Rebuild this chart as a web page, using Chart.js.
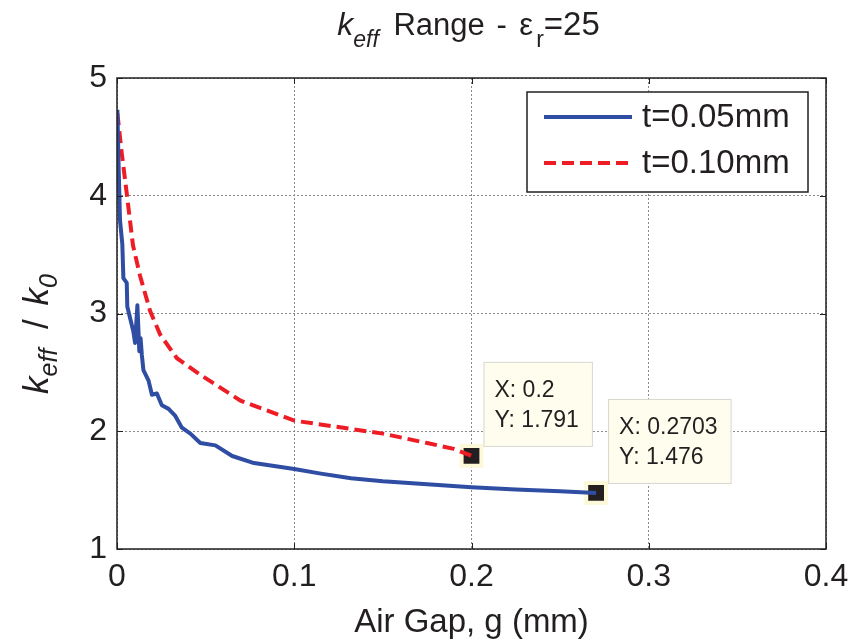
<!DOCTYPE html>
<html>
<head>
<meta charset="utf-8">
<script src="https://cdn.jsdelivr.net/npm/chart.js@4.4.1/dist/chart.umd.min.js"></script>
<style>
    html, body { margin: 0; padding: 0; background: #fff; }
    #wrap { width: 865px; height: 642px; }
</style>
</head>
<body>
<div id="wrap"><canvas id="chart" width="865" height="642"></canvas></div>
<script>
    // t = 0.05mm curve (air gap in mm, keff/k0)
    const gap05 = [0.0002, 0.0010, 0.0017, 0.0030, 0.0036, 0.0055, 0.0058, 0.0092, 0.0102, 0.0115,
                   0.0126, 0.0133, 0.0140, 0.0149, 0.0178, 0.0197, 0.0225, 0.0253, 0.0291, 0.0329,
                   0.0366, 0.0414, 0.0470, 0.0555, 0.0650, 0.0773, 0.1000, 0.1150, 0.1320, 0.1500,
                   0.1750, 0.2000, 0.2250, 0.2500, 0.2703];
    const keff05 = [4.73, 4.20, 3.79, 3.59, 3.30, 3.26, 3.06, 2.85, 2.75, 3.07,
                    2.68, 2.79, 2.65, 2.52, 2.43, 2.31, 2.32, 2.22, 2.19, 2.13,
                    2.03, 1.98, 1.90, 1.88, 1.79, 1.73, 1.68, 1.64, 1.60, 1.575,
                    1.55, 1.525, 1.505, 1.49, 1.476];

    // t = 0.10mm curve
    const gap10 = [0.0002, 0.0027, 0.0055, 0.0090, 0.0130, 0.0149, 0.0187, 0.0244, 0.0338, 0.0470,
                   0.0697, 0.1000, 0.1320, 0.1500, 0.1750, 0.1900, 0.2000];
    const keff10 = [4.70, 4.36, 4.02, 3.58, 3.32, 3.22, 3.02, 2.82, 2.62, 2.48,
                    2.26, 2.09, 2.02, 1.98, 1.90, 1.85, 1.791];

    // data tips
    const tipGap = [0.2, 0.2703];
    const tipKeff = [1.791, 1.476];

    const seriesLabels = ['t=0.05mm', 't=0.10mm'];
    const xTicks = [0, 0.1, 0.2, 0.3, 0.4];
    const yTicks = [1, 2, 3, 4, 5];

    const FONT = '"Liberation Sans", Arial, Helvetica, sans-serif';
    const INK = '#231f20';
    const BLUE = '#2f4da3';
    const RED = '#ee1c25';

    function toPoints(xs, ys) {
        return xs.map((x, i) => ({ x: x, y: ys[i] }));
    }

    // draw a run of text pieces (sub/italic parts, gaps), centred on x
    function drawRich(ctx, parts, x, y) {
        let total = 0;
        parts.forEach(p => {
            if (p.gap) { p.w = p.gap; total += p.w; return; }
            ctx.font = (p.it ? 'italic ' : '') + p.size + 'px ' + FONT;
            p.w = ctx.measureText(p.t).width;
            total += p.w;
        });
        let cx = x - total / 2;
        parts.forEach(p => {
            if (!p.gap) {
                ctx.font = (p.it ? 'italic ' : '') + p.size + 'px ' + FONT;
                ctx.fillText(p.t, cx, y + (p.dy || 0));
            }
            cx += p.w;
        });
    }

    const matlabDecor = {
        id: 'matlabDecor',
        afterDatasetsDraw: function(chart) {
            const ctx = chart.ctx;
            const a = chart.chartArea;
            const xs = chart.scales.x, ys = chart.scales.y;

            // frame + inward ticks
            ctx.save();
            ctx.strokeStyle = INK;
            ctx.lineWidth = 1.5;
            ctx.strokeRect(a.left, a.top, a.right - a.left, a.bottom - a.top);
            ctx.lineWidth = 1;
            ctx.beginPath();
            xTicks.forEach(v => {
                const px = Math.round(xs.getPixelForValue(v)) + 0.5;
                ctx.moveTo(px, a.bottom); ctx.lineTo(px, a.bottom - 6);
                ctx.moveTo(px, a.top); ctx.lineTo(px, a.top + 6);
            });
            yTicks.forEach(v => {
                const py = Math.round(ys.getPixelForValue(v)) + 0.5;
                ctx.moveTo(a.left, py); ctx.lineTo(a.left + 6, py);
                ctx.moveTo(a.right, py); ctx.lineTo(a.right - 6, py);
            });
            ctx.stroke();
            ctx.restore();

            // legend box
            ctx.save();
            const lw = 281, lh = 100;
            const lx = a.right - 18 - lw, ly = a.top + 14;
            ctx.fillStyle = '#fff';
            ctx.fillRect(lx, ly, lw, lh);
            ctx.strokeStyle = INK;
            ctx.lineWidth = 1.5;
            ctx.strokeRect(lx, ly, lw, lh);
            chart.data.datasets.forEach((ds, i) => {
                if (ds.isTip) return;
                const rowY = ly + 25 + i * 46;
                ctx.strokeStyle = ds.borderColor;
                ctx.lineWidth = ds.borderWidth;
                ctx.setLineDash(ds.borderDash || []);
                ctx.beginPath();
                ctx.moveTo(lx + 17, rowY);
                ctx.lineTo(lx + 105, rowY);
                ctx.stroke();
                ctx.setLineDash([]);
                ctx.fillStyle = INK;
                ctx.font = '33px ' + FONT;
                ctx.textBaseline = 'middle';
                ctx.fillText(ds.label, lx + 115, rowY + 1);
            });
            ctx.restore();

            // data tip boxes
            ctx.save();
            ctx.font = '23px ' + FONT;
            ctx.textBaseline = 'middle';
            tipGap.forEach((g, i) => {
                const px = xs.getPixelForValue(g);
                const py = ys.getPixelForValue(tipKeff[i]);
                const lines = ['X: ' + g, 'Y: ' + tipKeff[i]];
                const tw = Math.max(...lines.map(s => ctx.measureText(s).width));
                const bx = px + 12, by = py - 94, bw = tw + 24, bh = 84;
                ctx.fillStyle = '#fffdee';
                ctx.fillRect(bx, by, bw, bh);
                ctx.strokeStyle = '#d8d8d0';
                ctx.lineWidth = 1;
                ctx.strokeRect(bx + 0.5, by + 0.5, bw, bh);
                ctx.fillStyle = INK;
                ctx.fillText(lines[0], bx + 11, by + 29);
                ctx.fillText(lines[1], bx + 11, by + 59);
            });
            ctx.restore();
        },
        afterDraw: function(chart) {
            const ctx = chart.ctx;
            const a = chart.chartArea;
            ctx.save();
            ctx.fillStyle = INK;
            ctx.textBaseline = 'alphabetic';

            // title
            drawRich(ctx, [
                { t: 'k', size: 32, it: true },
                { t: 'eff', size: 23, it: true, dy: 12 },
                { gap: 6 },
                { t: ' Range ', size: 31 },
                { gap: 3 },
                { t: '-', size: 31 },
                { gap: 4 },
                { t: ' ε', size: 31 },
                { gap: 3 },
                { t: 'r', size: 23, dy: 12 },
                { t: '=25', size: 33 }
            ], (a.left + a.right) / 2 - 3, 35);

            // x title
            drawRich(ctx, [{ t: 'Air Gap, g (mm)', size: 33 }], (a.left + a.right) / 2, 632);

            // y title (rotated)
            ctx.translate(48, 334);
            ctx.rotate(-Math.PI / 2);
            drawRich(ctx, [
                { t: 'k', size: 35, it: true },
                { t: 'eff', size: 25, it: true, dy: 9 },
                { gap: 10 },
                { t: ' / ', size: 35 },
                { gap: 4 },
                { t: 'k', size: 35, it: true },
                { t: '0', size: 25, it: true, dy: 9 }
            ], 0, 0);
            ctx.restore();
        }
    };

    const tickFont = { family: FONT, size: 32 };

    new Chart(document.getElementById('chart'), {
        type: 'line',
        data: {
            datasets: [
                { label: seriesLabels[0], data: toPoints(gap05, keff05), borderColor: BLUE, borderWidth: 4,
                  pointRadius: 0, tension: 0, borderJoinStyle: 'round' },
                { label: seriesLabels[1], data: toPoints(gap10, keff10), borderColor: RED, borderWidth: 4,
                  borderDash: [12, 6], pointRadius: 0, tension: 0 },
                { label: 'tips', isTip: true, data: toPoints(tipGap, tipKeff), showLine: false,
                  pointStyle: 'rect', pointRadius: 14, pointBackgroundColor: INK,
                  pointBorderColor: '#fcf8d8', pointBorderWidth: 4 }
            ]
        },
        options: {
            responsive: false,
            animation: false,
            devicePixelRatio: 1,
            layout: { padding: { left: 0, top: 78, right: 39, bottom: 0 } },
            scales: {
                x: {
                    type: 'linear', min: 0, max: 0.4,
                    afterBuildTicks: s => { s.ticks = xTicks.map(v => ({ value: v })); },
                    afterFit: s => { s.height = 93; },
                    grid: { color: '#8a8a8a', lineWidth: 1, drawTicks: false },
                    border: { display: false, dash: [2, 2] },
                    ticks: { padding: 9, color: INK, font: tickFont, maxRotation: 0, callback: v => String(v) }
                },
                y: {
                    type: 'linear', min: 1, max: 5,
                    afterBuildTicks: s => { s.ticks = yTicks.map(v => ({ value: v })); },
                    afterFit: s => { s.width = 117; },
                    grid: { color: '#8a8a8a', lineWidth: 1, drawTicks: false },
                    border: { display: false, dash: [2, 2] },
                    ticks: { padding: 10, color: INK, font: tickFont, callback: v => String(v) }
                }
            },
            plugins: { legend: { display: false }, tooltip: { enabled: false } }
        },
        plugins: [matlabDecor]
    });
</script>
</body>
</html>
